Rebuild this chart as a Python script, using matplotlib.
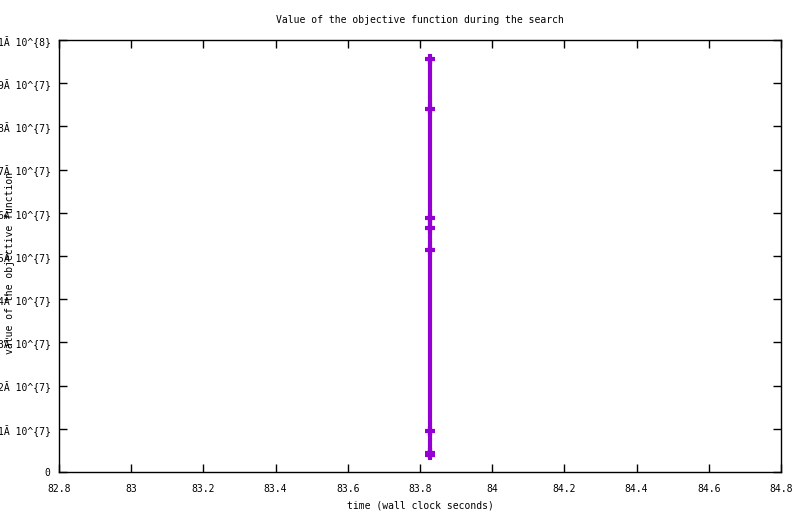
import numpy as np
import matplotlib
matplotlib.use('Agg')
import matplotlib.pyplot as plt

# dados (tempo em s, valor da funcao objetivo)
times = [83.828, 83.828, 83.828, 83.828, 83.828, 83.828, 83.828, 83.828]
values = [95.6e6, 84.0e6, 58.8e6, 56.5e6, 51.4e6, 9.5e6, 4.5e6, 3.9e6]

xticks = [82.8, 83, 83.2, 83.4, 83.6, 83.8, 84, 84.2, 84.4, 84.6, 84.8]
xtick_labels = ['82.8', '83', '83.2', '83.4', '83.6', '83.8', '84', '84.2', '84.4', '84.6', '84.8']
yticks = [0, 1e7, 2e7, 3e7, 4e7, 5e7, 6e7, 7e7, 8e7, 9e7, 1e8]
ytick_labels = ['0', '1Ă 10^{7}', '2Ă 10^{7}', '3Ă 10^{7}', '4Ă 10^{7}', '5Ă 10^{7}',
                '6Ă 10^{7}', '7Ă 10^{7}', '8Ă 10^{7}', '9Ă 10^{7}', '1Ă 10^{8}']

plt.rcParams['font.family'] = ['DejaVu Sans Mono']
plt.rcParams['font.size'] = 7

fig = plt.figure(figsize=(8, 5.14), dpi=100)
ax = fig.add_axes([59 / 800, 42 / 514, 722 / 800, 432 / 514])

ax.plot(times, values, color='#9400D3', linewidth=3, marker='+',
        markersize=7.5, markeredgewidth=3)

ax.set_xlim(82.8, 84.8)
ax.set_ylim(0, 1e8)
ax.set_xticks(xticks)
ax.set_xticklabels(xtick_labels)
ax.set_yticks(yticks)
ax.set_yticklabels(ytick_labels)
ax.tick_params(direction='in', length=6, width=1, top=True, right=True)
ax.tick_params(axis='x', pad=9)
ax.tick_params(axis='y', pad=6)

for s in ax.spines.values():
    s.set_linewidth(1)

ax.set_title('Value of the objective function during the search', fontsize=7, pad=12)
ax.set_xlabel('time (wall clock seconds)', labelpad=4)
fig.text(10 / 800, 1 - 263 / 514, 'value of the objective function', rotation=90,
         ha='center', va='center')

fig.savefig('out.png', dpi=100)
